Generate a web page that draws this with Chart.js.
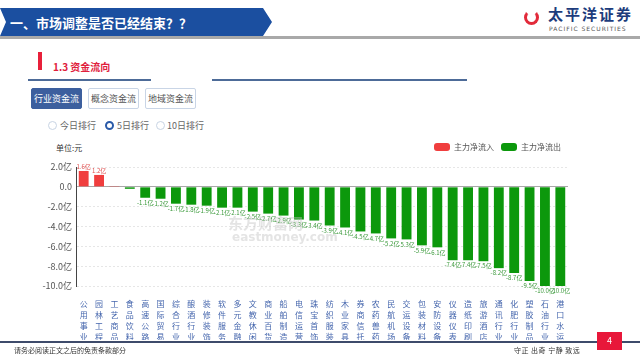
<!DOCTYPE html>
<html>
<head>
<meta charset="utf-8">
<script src="https://cdn.jsdelivr.net/npm/chart.js@4.4.0/dist/chart.umd.min.js"></script>
<style>
  body { margin: 0; width: 640px; height: 360px; overflow: hidden; background: #fff;
         font-family: "Noto Sans CJK SC", "Noto Sans", sans-serif; position: relative; }
  .abs { position: absolute; }
  .banner { left: 0; top: 8px; width: 272px; height: 28px; background: #1b4fa0;
            clip-path: polygon(0 0, 263px 0, 272px 14px, 263px 28px, 0 28px, 6px 14px); }
  .banner span { position: absolute; left: 10px; top: 5px; color: #fff; font-size: 13px; font-weight: bold; white-space: nowrap; }
  .grayband { left: 0; top: 36px; width: 640px; height: 3px; background: #a9a9a9; }
  .logo { left: 548px; top: 3px; color: #1d3c7c; font-size: 15px; font-weight: bold; letter-spacing: 2px; white-space: nowrap; }
  .logo2 { left: 549px; top: 25px; color: #555; font-size: 6px; letter-spacing: 1px; white-space: nowrap; font-family: "DejaVu Sans", sans-serif; }
  .icon { left: 524px; top: 10px; width: 9px; height: 9px; border: 3px solid #e22a3a; border-radius: 50%; border-top-color: transparent; }
  .redbar { left: 38px; top: 52px; width: 4px; height: 18px; background: #e8203a; }
  .sect { left: 53px; top: 59px; color: #e0203c; font-size: 10px; font-weight: bold; white-space: nowrap; }
  .bline { height: 2px; background: #4d6b98; top: 79px; }
  .btn { top: 88px; height: 19px; width: 49px; border: 1px solid #c9d5e6; border-radius: 2px; font-size: 9px;
         color: #555; text-align: center; line-height: 19px; background: #fff; }
  .btn.on { background: #3c5f9e; color: #fff; border-color: #3c5f9e; }
  .radio { top: 121px; width: 7px; height: 7px; border: 1px solid #c8d4e4; border-radius: 50%; }
  .radio.on { border: 2px solid #2a5aa8; width: 5px; height: 5px; }
  .rtext { top: 119px; font-size: 9px; color: #666; white-space: nowrap; }
  .unit { left: 56px; top: 142px; font-size: 8px; color: #333; white-space: nowrap; }
  .wm { left: 228px; top: 212px; color: rgba(195,195,195,0.45); font-size: 15px; font-weight: bold; white-space: nowrap; }
  .wm2 { left: 232px; top: 230px; color: rgba(195,195,195,0.45); font-size: 12px; font-weight: bold; white-space: nowrap; font-family: "DejaVu Sans", sans-serif; }
  .fline { left: 0; top: 341px; width: 640px; height: 2px; background: #3e4b6b; }
  .foot { left: 14px; top: 345px; font-size: 7px; color: #333; white-space: nowrap; }
  .motto { left: 514px; top: 345px; font-size: 7px; color: #333; white-space: nowrap; letter-spacing: 0.5px; }
  .page { left: 597px; top: 332px; width: 25px; height: 18px; background: #e8173a; color: #fff; font-size: 9px; text-align: center; line-height: 18px; }
  #wrap { position: absolute; left: 20px; top: 136px; width: 556px; height: 204px; }
</style>
</head>
<body>
<div class="abs banner"><span>一、市场调整是否已经结束？？</span></div>
<div class="abs grayband"></div>
<div class="abs icon"></div>
<div class="abs logo">太平洋证券</div>
<div class="abs logo2">PACIFIC SECURITIES</div>

<div class="abs redbar"></div>
<div class="abs sect">1.3 资金流向</div>
<div class="abs bline" style="left:28px;width:123px"></div>
<div class="abs bline" style="left:212px;width:255px"></div>

<div class="abs btn on" style="left:31px">行业资金流</div>
<div class="abs btn" style="left:88px">概念资金流</div>
<div class="abs btn" style="left:145px">地域资金流</div>

<div class="abs radio" style="left:48px"></div>
<div class="abs rtext" style="left:60px">今日排行</div>
<div class="abs radio on" style="left:105px"></div>
<div class="abs rtext" style="left:117px">5日排行</div>
<div class="abs radio" style="left:156px"></div>
<div class="abs rtext" style="left:167px">10日排行</div>

<div class="abs unit">单位:元</div>

<div id="wrap"><canvas id="chart"></canvas></div>
<div class="abs wm">东方财富网</div>
<div class="abs wm2">eastmoney.com</div>

<div class="abs fline"></div>
<div class="abs foot">请务必阅读正文之后的免责条款部分</div>
<div class="abs motto">守正 出奇 宁静 致远</div>
<div class="abs page">4</div>

<script>
const categories = ['公用事业', '园林工程', '工艺商品', '食品饮料', '高速公路', '国际贸易', '综合行业', '酿酒行业',
   '装修装饰', '软件服务', '多元金融', '文教休闲', '商业百货', '船舶制造', '电信运营', '珠宝首饰',
   '纺织服装', '木业家具', '券商信托', '农药兽药', '民航机场', '交运设备', '包装材料', '安防设备',
   '仪器仪表', '造纸印刷', '旅游酒店', '通讯行业', '化肥行业', '塑胶制品', '石油行业', '港口水运'];

// 主力资金净额（亿元）
const netFlow = [1.6, 1.2, 0.02, -0.2, -1.1, -1.2, -1.7, -1.8,
   -1.9, -2.1, -2.1, -2.5, -2.7, -2.9, -3.3, -3.4,
   -3.9, -4.1, -4.5, -4.7, -5.2, -5.3, -5.9, -6.1,
   -7.4, -7.4, -7.5, -8.2, -8.7, -9.5, -10.0, -10.0];

const yTicks = [2, 0, -2, -4, -6, -8, -10];

const inflow = netFlow.map(v => v > 0 ? v : null);
const outflow = netFlow.map(v => v <= 0 ? v : null);

const RED = '#f03e3e';
const GREEN = '#0c980c';

// 柱子上的数值标签
const valueLabels = {
   id: 'valueLabels',
   afterDatasetsDraw(chart) {
      const ctx = chart.ctx;
      ctx.save();
      ctx.font = '6px "Noto Sans CJK SC", sans-serif';
      ctx.textAlign = 'center';
      chart.data.datasets.forEach((ds, i) => {
         const meta = chart.getDatasetMeta(i);
         meta.data.forEach((bar, j) => {
            const v = ds.data[j];
            if (v === null || Math.abs(v) < 0.5) return;
            const text = v.toFixed(1) + '亿';
            if (v > 0) {
               ctx.fillStyle = '#e05050';
               ctx.textBaseline = 'bottom';
               ctx.fillText(text, bar.x, bar.y - 1);
            } else {
               ctx.fillStyle = '#3a993a';
               ctx.textBaseline = 'top';
               ctx.fillText(text, bar.x, bar.y + 2);
            }
         });
      });
      ctx.restore();
   }
};

// 图例高度调整
const legendSpace = {
   id: 'legendSpace',
   beforeInit(chart) {
      const origFit = chart.legend.fit;
      chart.legend.fit = function () {
         origFit.bind(chart.legend)();
         this.height = 31;
      };
   }
};

new Chart(document.getElementById('chart'), {
   type: 'bar',
   data: {
      labels: categories.map(c => c.split('')),
      datasets: [
         { label: '主力净流入', data: inflow, backgroundColor: RED, barPercentage: 0.64, categoryPercentage: 1 },
         { label: '主力净流出', data: outflow, backgroundColor: GREEN, barPercentage: 0.64, categoryPercentage: 1 }
      ]
   },
   options: {
      responsive: true,
      maintainAspectRatio: false,
      animation: false,
      layout: { padding: { left: 0, right: 8, top: 0, bottom: 0 } },
      plugins: {
         legend: {
            position: 'top',
            align: 'end',
            labels: {
               boxWidth: 16,
               boxHeight: 8,
               useBorderRadius: true,
               borderRadius: 3,
               padding: 7,
               color: '#555',
               font: { size: 8, family: '"Noto Sans CJK SC", sans-serif' }
            }
         },
         tooltip: { enabled: false }
      },
      scales: {
         x: {
            stacked: true,
            grid: { display: false },
            border: { display: false },
            ticks: {
               color: '#4566ad',
               padding: 5,
               maxRotation: 0,
               autoSkip: false,
               font: { size: 8, lineHeight: 1.35, family: '"Noto Sans CJK SC", sans-serif' }
            },
            afterFit: scale => { scale.height = 54; }
         },
         y: {
            stacked: true,
            min: -10,
            max: 2,
            afterBuildTicks: scale => { scale.ticks = yTicks.map(v => ({ value: v })); },
            grid: {
               drawTicks: false,
               color: ctx => ctx.tick && ctx.tick.value === 0 ? '#a8a8a8' : '#e6e6e6',
               lineWidth: 1
            },
            border: {
               display: true,
               color: '#444',
               dash: ctx => ctx.tick && ctx.tick.value === 0 ? [] : [2, 2]
            },
            ticks: {
               color: '#555',
               padding: 4,
               font: { size: 9, family: '"Noto Sans CJK SC", sans-serif' },
               callback: v => v === 0 ? '0.0' : v.toFixed(1) + '亿'
            },
            afterFit: scale => { scale.width = 56; }
         }
      }
   },
   plugins: [valueLabels, legendSpace]
});
</script>
</body>
</html>
